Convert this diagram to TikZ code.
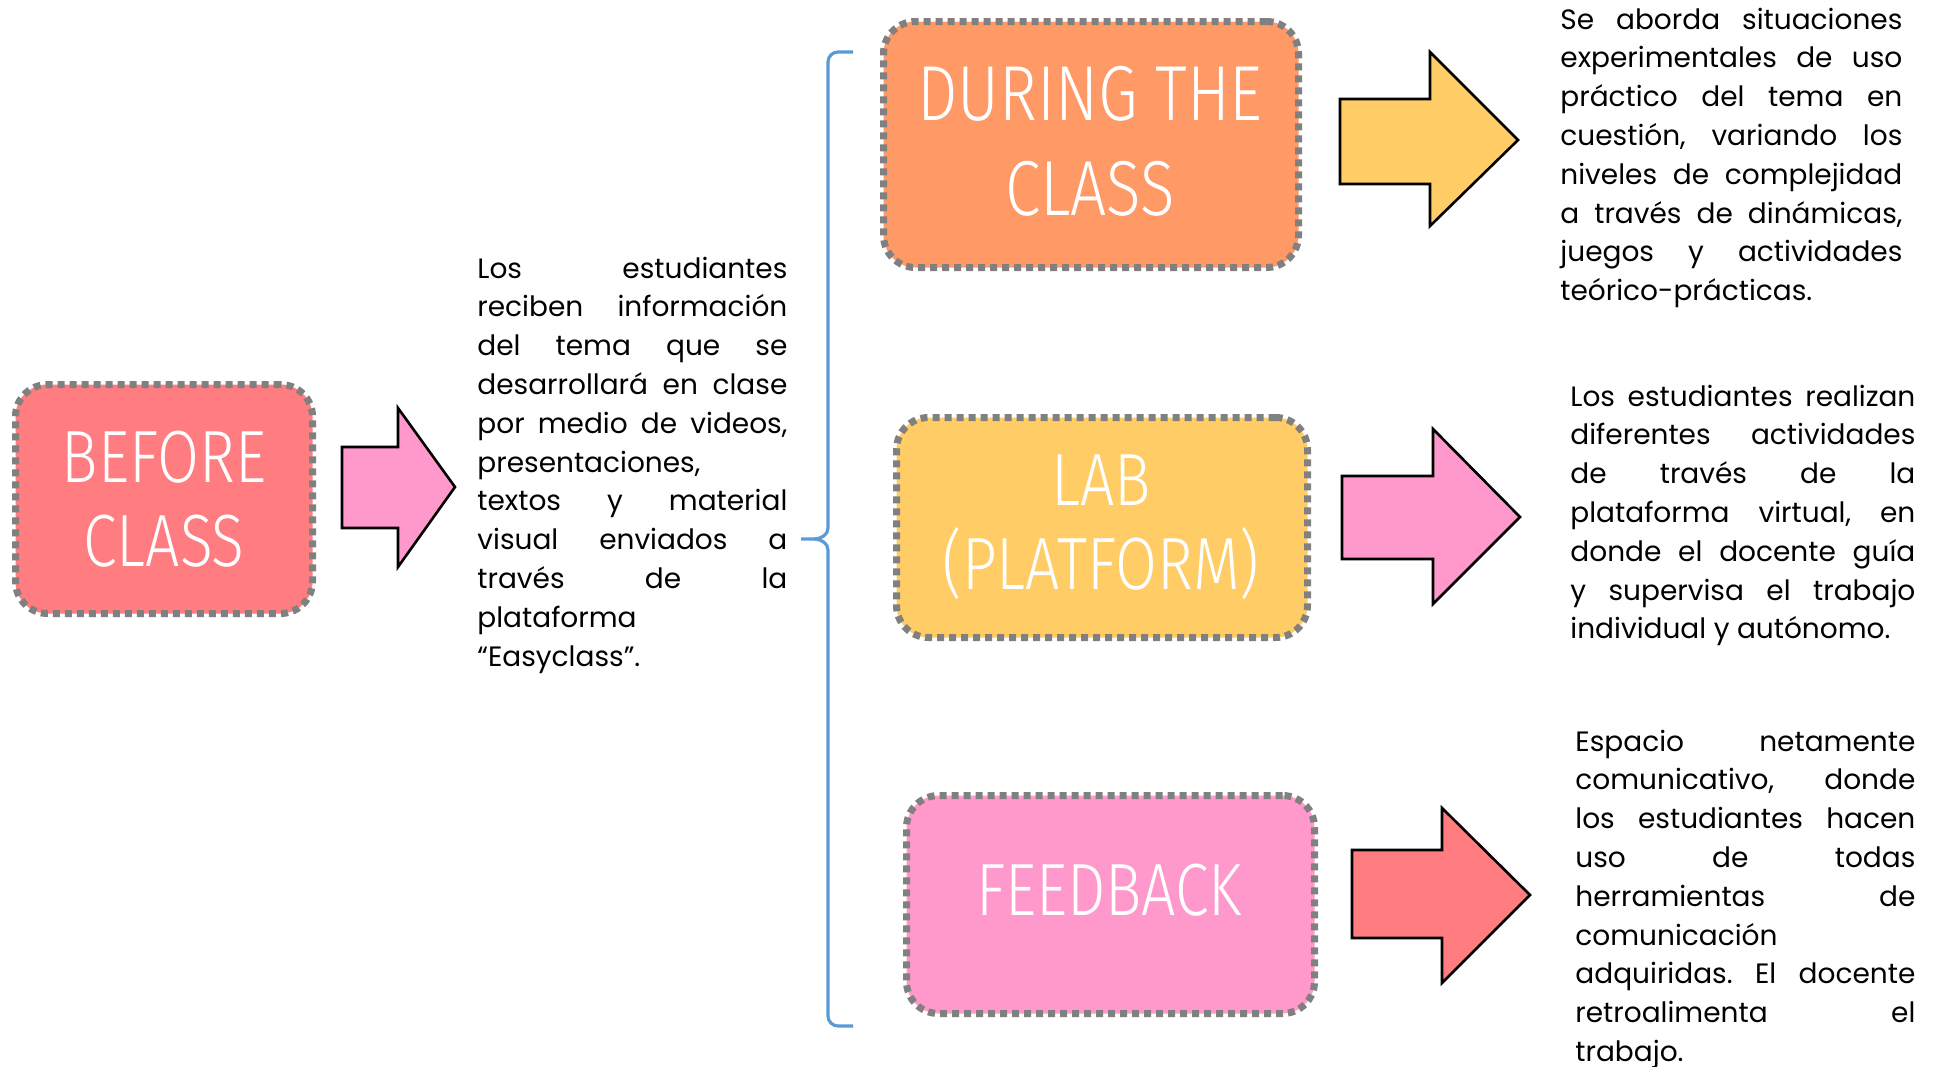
\documentclass[tikz,border=0pt]{standalone}
\usepackage{fontspec}
\setmainfont{Poppins}
\newfontfamily\titlefont{Fira Sans Light}[FakeStretch=0.82]
\definecolor{csalmon}{HTML}{FF7C80}
\definecolor{corange}{HTML}{FF9966}
\definecolor{cyellow}{HTML}{FFCC66}
\definecolor{cpink}{HTML}{FF99CC}
\definecolor{cgrayb}{HTML}{808080}
\definecolor{cblue}{HTML}{5B9BD5}
\newcommand\jline[1]{\hbox to\hsize{#1}}
\newcommand\lline[1]{\hbox to\hsize{#1\hfil}}
\newcommand\tblock[2]{\vtop{\hsize=#1\relax\frenchspacing #2}}
\tikzset{
  stage/.style={draw=cgrayb, line width=3.5pt, dash pattern=on 3.5pt off 2.5pt,
    rounded corners=16pt, inner sep=0pt},
  title/.style={text=white, font=\titlefont\fontsize{37}{42}\selectfont, align=center, inner sep=0pt},
  body/.style={font=\fontsize{14}{19.4}\selectfont, inner sep=0pt, anchor=base west},
  blockarrow/.style={draw=black, line width=1.3pt, line join=miter},
  brace/.style={draw=cblue, line width=1.6pt}
}
\begin{document}
\begin{tikzpicture}[x=0.5pt,y=-0.5pt]
\useasboundingbox (0,0) rectangle (1938,1066);
\fill[white] (0,0) rectangle (1938,1066);

% stage boxes
\node[stage, fill=csalmon, minimum width=148.5pt, minimum height=114.5pt] (before) at (164,499) {};
\node[stage, fill=corange, minimum width=207.5pt, minimum height=123pt] (during) at (1091,144.5) {};
\node[stage, fill=cyellow, minimum width=205.5pt, minimum height=110pt] (lab) at (1102,527.5) {};
\node[stage, fill=cpink, minimum width=204pt, minimum height=109pt] (feedback) at (1110.5,904.5) {};

% titles
\node[title] (beforeT) at (164,499) {BEFORE\\CLASS};
\node[title, font=\titlefont\fontsize{39}{47.5}\selectfont] (duringT) at (1090,141) {DURING THE\\CLASS};
\node[title] (labT) at (1101,527) {LAB\\(PLATFORM)};
\node[title] (feedbackT) at (1109,890) {FEEDBACK};

% block arrows
\draw[blockarrow, fill=cpink] (342,447) -- (398,447) -- (398,408) -- (455,487) -- (398,567) -- (398,528) -- (342,528) -- cycle;
\draw[blockarrow, fill=cyellow] (1340,99) -- (1430,99) -- (1430,52) -- (1518,140) -- (1430,226) -- (1430,184) -- (1340,184) -- cycle;
\draw[blockarrow, fill=cpink] (1342,476) -- (1433,476) -- (1433,429) -- (1520,517) -- (1433,604) -- (1433,559) -- (1342,559) -- cycle;
\draw[blockarrow, fill=csalmon] (1352,850) -- (1442,850) -- (1442,808) -- (1530,895) -- (1442,983) -- (1442,938) -- (1352,938) -- cycle;

% middle text
\node[body] (midtext) at (477,278) {\tblock{155pt}{%
\jline{Los estudiantes}
\jline{reciben información}
\jline{del tema que se}
\jline{desarrollará en clase}
\jline{por medio de videos,}
\lline{presentaciones,}
\jline{textos y material}
\jline{visual enviados a}
\jline{través de la}
\lline{plataforma}
\lline{“Easyclass”.}}};

% brace
\coordinate (braceTop) at (853,52);
\coordinate (braceTip) at (801,539);
\coordinate (braceBot) at (853,1026);
\draw[brace] (braceTop) -- (838,52) to[out=180,in=90] (828,62) -- (828,528)
  to[out=-90,in=0] (814,539) -- (braceTip) -- (814,539) to[out=0,in=90] (828,550)
  -- (828,1016) to[out=-90,in=180] (838,1026) -- (braceBot);

% right texts
\node[body] (rt1) at (1560,29) {\tblock{171pt}{%
\jline{Se aborda situaciones}
\jline{experimentales de uso}
\jline{práctico del tema en}
\jline{cuestión, variando los}
\jline{niveles de complejidad}
\jline{a través de dinámicas,}
\jline{juegos y actividades}
\lline{teórico-prácticas.}}};

\node[body] (rt2) at (1570,406) {\tblock{172.5pt}{%
\jline{Los estudiantes realizan}
\jline{diferentes actividades}
\jline{de través de la}
\jline{plataforma virtual, en}
\jline{donde el docente guía}
\jline{y supervisa el trabajo}
\lline{individual y autónomo.}}};

\node[body] (rt3) at (1575,751) {\tblock{170pt}{%
\jline{Espacio netamente}
\jline{comunicativo, donde}
\jline{los estudiantes hacen}
\jline{uso de todas}
\jline{herramientas de}
\lline{comunicación}
\jline{adquiridas. El docente}
\jline{retroalimenta el}
\lline{trabajo.}}};
\end{tikzpicture}
\end{document}
